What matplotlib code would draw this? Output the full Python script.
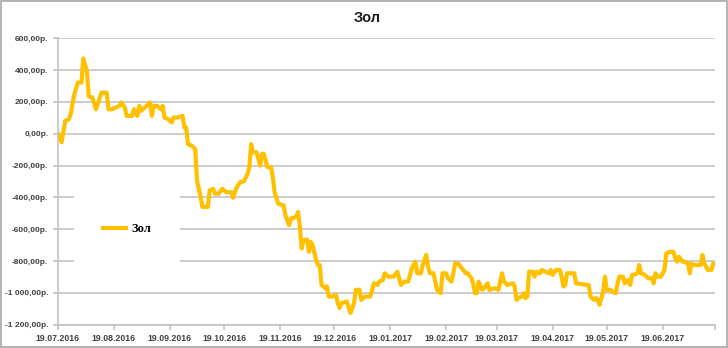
import numpy as np
import matplotlib
matplotlib.use("Agg")
import matplotlib.pyplot as plt
import matplotlib.dates as mdates
from matplotlib.ticker import FuncFormatter, MultipleLocator
from matplotlib.patches import Rectangle

# days after 19.07.2016 and value in rubles
start = np.datetime64("2016-07-19")
days = [0, 2, 4, 6, 7, 9, 11, 13, 14, 16, 17, 19, 21, 22, 24, 27, 28, 30, 32, 34,
        35, 37, 38, 41, 42, 44, 45, 46, 48, 51, 52, 53, 55, 57, 58, 59, 61, 63, 64, 66,
        69, 70, 71, 72, 74, 76, 77, 79, 80, 83, 84, 86, 87, 89, 91, 93, 96, 97, 99, 101,
        103, 105, 106, 107, 108, 110, 112, 113, 114, 116, 118, 119, 120, 122, 125, 126, 128, 129, 132, 133,
        134, 135, 136, 138, 139, 140, 141, 143, 144, 145, 146, 148, 149, 150, 152, 154, 155, 156, 157, 160,
        162, 164, 165, 167, 168, 170, 173, 175, 177, 178, 180, 181, 183, 186, 188, 190, 192, 194, 196, 197,
        198, 199, 201, 202, 204, 205, 206, 208, 210, 212, 213, 215, 216, 218, 219, 220, 222, 223, 226, 227,
        229, 230, 231, 232, 233, 235, 236, 238, 239, 242, 244, 246, 247, 249, 252, 253, 254, 255, 257, 258,
        259, 260, 261, 263, 264, 265, 267, 268, 270, 272, 273, 274, 276, 278, 279, 280, 281, 282, 286, 287,
        293, 294, 295, 297, 298, 299, 300, 302, 303, 304, 306, 307, 309, 310, 311, 313, 314, 316, 317, 318,
        319, 321, 322, 323, 325, 327, 329, 330, 331, 332, 334, 336, 337, 339, 341, 342, 343, 344, 346, 347,
        349, 350, 351, 352, 356, 357, 358, 360, 362, 363, 364]
values = [0, -54, 81, 91, 123, 248, 322, 322, 473, 394, 237, 227, 154, 185, 258, 258, 154, 154, 165, 175,
          196, 165, 112, 112, 154, 112, 175, 144, 165, 196, 112, 175, 175, 154, 175, 102, 92, 71, 102, 102,
          112, 40, 40, -65, -75, -96, -294, -398, -460, -460, -356, -346, -377, -377, -346, -367, -367, -402, -335, -304,
          -298, -252, -210, -65, -117, -117, -200, -127, -127, -210, -210, -273, -367, -440, -450, -512, -575, -533, -523, -492,
          -585, -721, -669, -665, -742, -679, -700, -794, -825, -825, -950, -971, -960, -1023, -1023, -1013, -1065, -1096, -1065, -1054,
          -1127, -1065, -981, -981, -1044, -1023, -1023, -940, -950, -929, -919, -877, -898, -898, -867, -950, -929, -929, -846, -825,
          -804, -877, -877, -825, -762, -835, -877, -877, -981, -1002, -877, -877, -908, -929, -877, -815, -819, -835, -877, -877,
          -908, -940, -1002, -1002, -929, -981, -971, -940, -981, -971, -981, -877, -929, -950, -940, -960, -1044, -1033, -1023, -1002,
          -1033, -1023, -867, -867, -898, -867, -877, -856, -867, -877, -856, -887, -856, -856, -898, -960, -950, -877, -877, -940,
          -950, -950, -1023, -1044, -1033, -1044, -1075, -992, -898, -981, -981, -992, -1002, -940, -898, -898, -940, -919, -950, -887,
          -887, -877, -825, -877, -887, -908, -908, -940, -877, -898, -898, -856, -752, -742, -742, -783, -804, -773, -804, -804,
          -815, -877, -815, -825, -825, -762, -815, -856, -856, -815, -815]

tick_dates = np.array(["2016-07-19", "2016-08-19", "2016-09-19", "2016-10-19", "2016-11-19",
                       "2016-12-19", "2017-01-19", "2017-02-19", "2017-03-19", "2017-04-19",
                       "2017-05-19", "2017-06-19"], dtype="datetime64[D]")

series_name = "Зол"
title = "Зол"

dates = start + np.array(days)
end = dates[-1]

fig = plt.figure(figsize=(7.28, 3.48), dpi=100)
ax = fig.add_axes([0.0797, 0.067, 0.9025, 0.823])

ax.plot(dates, values, color="#FFC000", lw=3, label=series_name, solid_joinstyle="round")

ax.set_ylim(-1200, 600)
ax.set_xlim(start, end)
ax.yaxis.set_major_locator(MultipleLocator(200))
ax.set_xticks(tick_dates)
ax.set_xticks([end], minor=True)
ax.xaxis.set_major_formatter(mdates.DateFormatter("%d.%m.%Y"))


def rub(v, pos):
    s = f"{v:,.2f}".replace(",", " ").replace(".", ",")
    return s + "р."


ax.yaxis.set_major_formatter(FuncFormatter(rub))
ax.grid(axis="y", color="#BFBFBF", lw=1.1)
ax.set_axisbelow(True)
for s in ["top", "right"]:
    ax.spines[s].set_visible(False)
for s in ["left", "bottom"]:
    ax.spines[s].set_color("#BFBFBF")
    ax.spines[s].set_linewidth(1.1)
ax.tick_params(axis="both", which="both", colors="#BFBFBF", length=3.5, width=1.1,
               labelcolor="#404040", labelsize=6.3)
ax.tick_params(axis="y", labelsize=6.0)
for lab in ax.get_xticklabels() + ax.get_yticklabels():
    lab.set_fontweight("bold")
    lab.set_family("Liberation Sans")

fig.text(0.505, 0.948, title, ha="center", va="center", fontsize=10.5,
         fontweight="bold", family="Liberation Sans", color="#1a1a1a")

leg = ax.legend(loc="center", bbox_to_anchor=(0.1745, 0.342), bbox_transform=fig.transFigure,
                frameon=True, framealpha=1, facecolor="white", edgecolor="none",
                handlelength=1.9, handletextpad=0.4, borderpad=2.3, fancybox=False,
                prop={"family": "Liberation Serif", "weight": "bold", "size": 9})

fig.patches.append(Rectangle((0.002, 0.003), 0.996, 0.994, transform=fig.transFigure,
                             fill=False, edgecolor="#A6A6A6", lw=1.2))

fig.savefig("out.png", dpi=100)
